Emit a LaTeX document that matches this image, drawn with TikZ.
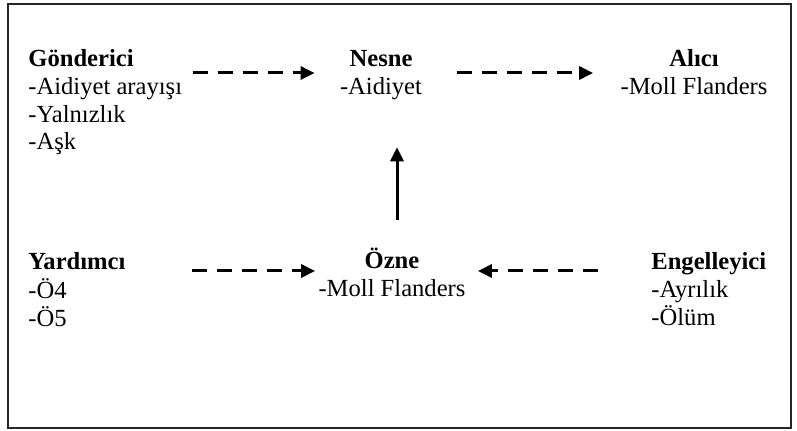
\documentclass[tikz,border=0pt]{standalone}
\usepackage{fontspec}
\setmainfont{Liberation Serif}
\usetikzlibrary{arrows.meta}
\newcommand{\leftlist}[1]{\begin{tabular}[t]{@{}l@{}}#1\end{tabular}}
\newcommand{\midlist}[1]{\begin{tabular}[t]{@{}c@{}}#1\end{tabular}}
\tikzstyle{myblock} = [inner sep=0, font=\fontsize{12.3}{13.8}\selectfont]
\tikzstyle{leftblock} = [myblock, anchor=base west]
\tikzstyle{midblock} = [myblock, anchor=base]
\tikzstyle{dasharrow} = [line width=1.5pt, dash pattern=on 7.5pt off 5pt,
    -{Triangle[length=7pt,width=6.5pt]}]
\tikzstyle{fullarrow} = [line width=1.5pt, -{Triangle[length=7pt,width=6.5pt]}]

\begin{document}
\begin{tikzpicture}[x=0.5pt,y=-0.5pt]
\useasboundingbox (0,0) rectangle (797,431);
\draw[line width=1pt, black!85] (8,4) rectangle (791,428);
% upper row
\node[leftblock] (gonderici) at (28,67) {\leftlist{\textbf{Gönderici}\\-Aidiyet arayışı\\-Yalnızlık\\-Aşk}};
\node[midblock] (nesne) at (381,67) {\midlist{\textbf{Nesne}\\-Aidiyet}};
\node[midblock] (alici) at (694,67) {\midlist{\textbf{Alıcı}\\-Moll Flanders}};
% lower row
\node[leftblock] (yardimci) at (28,270) {\leftlist{\textbf{Yardımcı}\\-Ö4\\-Ö5}};
\node[midblock] (ozne) at (392,269) {\midlist{\textbf{Özne}\\-Moll Flanders}};
\node[leftblock] (engelleyici) at (651,270) {\leftlist{\textbf{Engelleyici}\\-Ayrılık\\-Ölüm}};
% arrows
\draw[dasharrow] ([shift={(10,6)}]gonderici.base east) -- ([shift={(-25,6)}]nesne.base west);
\draw[dasharrow] ([shift={(35,6)}]nesne.base east) -- ([shift={(-27,6)}]alici.base west);
\draw[fullarrow] ([shift={(5,-28)}]ozne.north) -- ([shift={(16,44)}]nesne.south);
\draw[dasharrow] ([shift={(66,1)}]yardimci.base east) -- ([shift={(-3,2)}]ozne.base west);
\draw[dasharrow] ([shift={(-53,1)}]engelleyici.base west) -- ([shift={(12,2)}]ozne.base east);
\end{tikzpicture}
\end{document}
